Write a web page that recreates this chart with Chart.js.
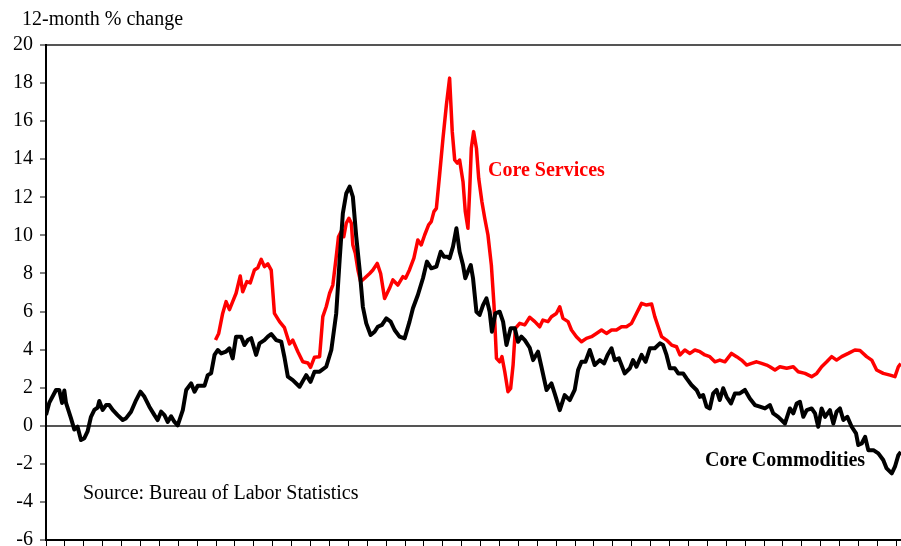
<!DOCTYPE html>
<html>
<head>
<meta charset="utf-8">
<title>Core Services vs Core Commodities</title>
<script src="https://cdn.jsdelivr.net/npm/chart.js@4"></script>
<style>
  html, body { margin: 0; padding: 0; background: #fff; }
  #wrap { width: 901px; height: 546px; }
</style>
</head>
<body>
<div id="wrap"><canvas id="cpiChart" width="901" height="546"></canvas></div>
<script>
// 12-month % change (decimal years)
const commodityYears = [
  1959.00, 1959.17, 1959.53, 1959.70, 1959.85, 1959.97, 1960.06, 1960.32, 1960.50, 1960.67,
  1960.85, 1961.03, 1961.20, 1961.38, 1961.56, 1961.73, 1961.82, 1962.00, 1962.18, 1962.35,
  1962.53, 1962.79, 1963.06, 1963.24, 1963.50, 1963.77, 1964.00, 1964.21, 1964.47, 1964.74,
  1964.91, 1965.09, 1965.27, 1965.44, 1965.62, 1965.80, 1965.97, 1966.24, 1966.42, 1966.68,
  1966.86, 1967.03, 1967.39, 1967.56, 1967.74, 1967.92, 1968.09, 1968.27, 1968.53, 1968.71,
  1968.88, 1969.06, 1969.33, 1969.50, 1969.68, 1969.86, 1970.12, 1970.30, 1970.56, 1970.74,
  1970.92, 1971.18, 1971.45, 1971.62, 1971.80, 1972.06, 1972.42, 1972.77, 1973.00, 1973.21,
  1973.48, 1973.83, 1974.10, 1974.36, 1974.54, 1974.71, 1974.89, 1975.07, 1975.24, 1975.42,
  1975.60, 1975.77, 1975.95, 1976.18, 1976.39, 1976.56, 1976.78, 1977.01, 1977.24, 1977.45,
  1977.71, 1977.98, 1978.24, 1978.42, 1978.68, 1978.95, 1979.16, 1979.39, 1979.66, 1979.89,
  1980.06, 1980.24, 1980.36, 1980.54, 1980.72, 1980.89, 1981.07, 1981.19, 1981.33, 1981.48,
  1981.60, 1981.78, 1981.95, 1982.13, 1982.31, 1982.48, 1982.60, 1982.78, 1983.01, 1983.19,
  1983.37, 1983.59, 1983.81, 1983.98, 1984.16, 1984.34, 1984.60, 1984.78, 1985.04, 1985.22,
  1985.49, 1985.75, 1985.92, 1986.19, 1986.45, 1986.72, 1986.98, 1987.16, 1987.34, 1987.55,
  1987.78, 1988.04, 1988.31, 1988.54, 1988.72, 1988.93, 1989.10, 1989.32, 1989.63, 1989.90,
  1990.07, 1990.25, 1990.52, 1990.73, 1990.96, 1991.22, 1991.49, 1991.66, 1991.84, 1992.02,
  1992.28, 1992.46, 1992.72, 1992.90, 1993.16, 1993.43, 1993.61, 1993.78, 1993.96, 1994.13,
  1994.31, 1994.49, 1994.66, 1994.84, 1995.02, 1995.25, 1995.46, 1995.72, 1995.99, 1996.25,
  1996.52, 1996.78, 1997.05, 1997.31, 1997.49, 1997.75, 1998.11, 1998.37, 1998.55, 1998.73,
  1998.90, 1999.08, 1999.26, 1999.52, 1999.70, 1999.87, 2000.05, 2000.23, 2000.49, 2000.67,
  2000.84, 2001.02, 2001.20, 2001.41, 2001.64, 2001.87, 2001.99, 2002.17, 2002.35, 2002.52,
  2002.79, 2003.05, 2003.31, 2003.49, 2003.76, 2003.93, 2004.11, 2004.24
];
const commodityValues = [
  0.56, 1.20, 1.88, 1.88, 1.20, 1.85, 1.20, 0.40, -0.20, -0.05,
  -0.75, -0.65, -0.30, 0.47, 0.83, 0.95, 1.30, 0.83, 1.09, 1.09,
  0.83, 0.56, 0.30, 0.40, 0.74, 1.35, 1.79, 1.52, 1.00, 0.56,
  0.30, 0.74, 0.56, 0.20, 0.50, 0.20, 0.02, 0.82, 1.88, 2.23,
  1.79, 2.10, 2.10, 2.66, 2.76, 3.72, 3.98, 3.80, 3.90, 4.07,
  3.54, 4.68, 4.68, 4.24, 4.50, 4.60, 3.72, 4.33, 4.50, 4.68,
  4.82, 4.50, 4.42, 3.60, 2.58, 2.40, 2.05, 2.66, 2.31, 2.84,
  2.84, 3.10, 3.98, 5.90, 8.70, 11.16, 12.20, 12.56, 12.03, 9.93,
  8.18, 6.25, 5.38, 4.77, 4.94, 5.20, 5.30, 5.64, 5.47, 5.03,
  4.68, 4.59, 5.47, 6.17, 6.87, 7.75, 8.62, 8.27, 8.36, 9.14,
  8.88, 8.88, 8.80, 9.41, 10.37, 9.14, 8.44, 7.75, 8.10, 8.44,
  7.75, 5.99, 5.82, 6.34, 6.69, 5.99, 4.94, 5.90, 5.99, 5.47,
  4.24, 5.12, 5.12, 4.41, 4.68, 4.50, 4.10, 3.45, 3.89, 3.10,
  1.88, 2.23, 1.70, 0.82, 1.61, 1.35, 1.88, 2.93, 3.36, 3.36,
  3.98, 3.19, 3.45, 3.28, 3.72, 4.07, 3.45, 3.54, 2.75, 3.02,
  3.45, 3.10, 3.72, 3.36, 4.07, 4.07, 4.33, 4.24, 3.72, 3.02,
  3.02, 2.75, 2.75, 2.49, 2.14, 1.88, 1.52, 1.61, 1.00, 0.91,
  1.70, 1.88, 1.35, 1.97, 1.52, 1.17, 1.70, 1.70, 1.88, 1.43,
  1.09, 1.00, 0.91, 1.09, 0.65, 0.47, 0.12, 0.91, 0.65, 1.17,
  1.26, 0.47, 0.82, 0.91, 0.65, -0.05, 0.91, 0.47, 0.82, 0.12,
  0.74, 0.91, 0.30, 0.47, -0.05, -0.40, -1.01, -0.93, -0.58, -1.28,
  -1.28, -1.45, -1.80, -2.24, -2.50, -2.15, -1.54, -1.37
];

const serviceYears = [
  1967.97, 1968.14, 1968.35, 1968.53, 1968.71, 1968.88, 1969.06, 1969.28, 1969.41, 1969.63,
  1969.81, 1970.03, 1970.21, 1970.39, 1970.56, 1970.74, 1970.92, 1971.09, 1971.36, 1971.62,
  1971.89, 1972.06, 1972.33, 1972.59, 1972.86, 1973.00, 1973.21, 1973.48, 1973.65, 1973.83,
  1974.01, 1974.18, 1974.36, 1974.48, 1974.66, 1974.76, 1974.89, 1975.03, 1975.16, 1975.24,
  1975.37, 1975.51, 1975.65, 1975.86, 1976.13, 1976.30, 1976.53, 1976.71, 1976.92, 1977.18,
  1977.36, 1977.62, 1977.89, 1978.03, 1978.24, 1978.47, 1978.68, 1978.86, 1979.04, 1979.25,
  1979.39, 1979.53, 1979.66, 1979.83, 1980.01, 1980.19, 1980.36, 1980.50, 1980.63, 1980.77,
  1980.89, 1981.07, 1981.19, 1981.33, 1981.42, 1981.51, 1981.63, 1981.78, 1981.90, 1982.07,
  1982.22, 1982.39, 1982.57, 1982.71, 1982.84, 1983.01, 1983.13, 1983.28, 1983.45, 1983.59,
  1983.72, 1983.84, 1984.07, 1984.34, 1984.60, 1984.87, 1985.13, 1985.30, 1985.57, 1985.75,
  1986.01, 1986.19, 1986.36, 1986.63, 1986.81, 1987.07, 1987.34, 1987.60, 1987.87, 1988.13,
  1988.40, 1988.66, 1988.93, 1989.19, 1989.46, 1989.72, 1989.99, 1990.25, 1990.52, 1990.78,
  1991.05, 1991.22, 1991.40, 1991.58, 1991.84, 1992.11, 1992.37, 1992.55, 1992.81, 1993.08,
  1993.34, 1993.61, 1993.87, 1994.13, 1994.40, 1994.66, 1994.93, 1995.28, 1995.55, 1995.81,
  1996.08, 1996.34, 1996.61, 1996.87, 1997.14, 1997.31, 1997.58, 1997.84, 1998.20, 1998.55,
  1998.81, 1999.17, 1999.52, 1999.79, 2000.05, 2000.32, 2000.58, 2000.84, 2001.11, 2001.46,
  2001.81, 2002.08, 2002.43, 2002.70, 2002.96, 2003.31, 2003.67, 2003.93, 2004.11, 2004.24
];
const serviceValues = [
  4.50, 4.85, 5.90, 6.52, 6.10, 6.52, 6.96, 7.87, 7.04, 7.57,
  7.50, 8.18, 8.30, 8.74, 8.36, 8.50, 8.18, 5.90, 5.47, 5.15,
  4.30, 4.50, 3.89, 3.36, 3.30, 3.07, 3.60, 3.63, 5.73, 6.25,
  6.96, 7.39, 8.88, 9.93, 10.28, 9.93, 10.64, 10.90, 10.64, 9.50,
  9.06, 8.18, 7.57, 7.75, 8.00, 8.18, 8.53, 8.00, 6.69, 7.22,
  7.66, 7.39, 7.83, 7.75, 8.20, 8.80, 9.76, 9.50, 10.02, 10.55,
  10.72, 11.25, 11.42, 13.17, 15.10, 16.85, 18.26, 15.45, 13.96, 13.79,
  13.96, 12.82, 11.25, 10.37, 12.30, 14.58, 15.45, 14.58, 13.00, 11.77,
  10.90, 10.02, 8.44, 6.34, 3.54, 3.36, 3.63, 2.84, 1.79, 1.96,
  3.19, 5.12, 5.38, 5.30, 5.70, 5.47, 5.20, 5.55, 5.47, 5.73,
  5.90, 6.25, 5.64, 5.47, 5.03, 4.68, 4.41, 4.59, 4.68, 4.85,
  5.03, 4.85, 5.03, 5.03, 5.20, 5.20, 5.38, 5.90, 6.43, 6.34,
  6.40, 5.73, 5.20, 4.68, 4.50, 4.24, 4.15, 3.72, 3.98, 3.80,
  3.98, 3.89, 3.72, 3.63, 3.36, 3.45, 3.36, 3.80, 3.63, 3.45,
  3.19, 3.28, 3.36, 3.28, 3.19, 3.10, 2.93, 3.10, 3.02, 3.10,
  2.84, 2.75, 2.58, 2.75, 3.10, 3.36, 3.63, 3.45, 3.63, 3.80,
  3.98, 3.95, 3.63, 3.45, 2.93, 2.75, 2.66, 2.58, 3.10, 3.27
];

const yMin = -6;
const yMax = 20;
const yStep = 2;
const xFirstYear = 1959;
const xLastYear = 2004.25;

const serif = "'Liberation Serif', 'Times New Roman', Times, serif";

function toPoints(xs, ys) {
  return xs.map((x, i) => ({ x: x, y: ys[i] }));
}

// free text on the chart: axis caption, series labels, source note
const chartNotes = {
  id: 'chartNotes',
  afterDraw(chart) {
    const ctx = chart.ctx;
    ctx.save();
    ctx.textBaseline = 'alphabetic';
    ctx.textAlign = 'left';

    ctx.fillStyle = '#000';
    ctx.font = '20px ' + serif;
    ctx.fillText('12-month % change', 22, 25);
    ctx.fillText('Source: Bureau of Labor Statistics', 83, 499);

    ctx.font = 'bold 20px ' + serif;
    ctx.fillStyle = '#ff0000';
    ctx.fillText('Core Services', 488, 176);
    ctx.fillStyle = '#000';
    ctx.fillText('Core Commodities', 705, 466);
    ctx.restore();
  }
};

const ctx = document.getElementById('cpiChart').getContext('2d');

new Chart(ctx, {
  type: 'line',
  data: {
    datasets: [
      {
        label: 'Core Commodities',
        data: toPoints(commodityYears, commodityValues),
        borderColor: '#000000',
        borderWidth: 4,
        pointRadius: 0,
        tension: 0,
        fill: false,
        borderJoinStyle: 'round'
      },
      {
        label: 'Core Services',
        data: toPoints(serviceYears, serviceValues),
        borderColor: '#ff0000',
        borderWidth: 3.5,
        pointRadius: 0,
        tension: 0,
        fill: false,
        borderJoinStyle: 'round'
      }
    ]
  },
  options: {
    responsive: false,
    animation: false,
    devicePixelRatio: 1,
    layout: { padding: { top: 45, right: 0, bottom: 0, left: 0 } },
    plugins: {
      legend: { display: false },
      tooltip: { enabled: false },
      title: { display: false }
    },
    scales: {
      x: {
        type: 'linear',
        min: xFirstYear,
        max: xLastYear,
        ticks: { display: false, stepSize: 1, includeBounds: false, autoSkip: false },
        grid: {
          drawOnChartArea: false,
          drawTicks: true,
          tickLength: 6,
          tickColor: '#000',
          tickWidth: 1
        },
        border: { display: true, color: '#000', width: 2 }
      },
      y: {
        min: yMin,
        max: yMax,
        ticks: {
          stepSize: yStep,
          color: '#000',
          padding: 7,
          font: { family: serif, size: 20 }
        },
        grid: {
          color: c => (c.tick && (c.tick.value === 0 || c.tick.value === yMax)) ? '#555555' : 'rgba(0,0,0,0)',
          lineWidth: 2,
          drawTicks: true,
          tickLength: 6,
          tickColor: '#000',
          tickWidth: 1
        },
        border: { display: true, color: '#000', width: 2 },
        afterFit(scale) {
          scale.width = 46;
          // let the plot run to the bottom like the original
          scale.paddingTop = 0;
          scale.paddingBottom = 0;
        }
      }
    }
  },
  plugins: [chartNotes]
});
</script>
</body>
</html>
